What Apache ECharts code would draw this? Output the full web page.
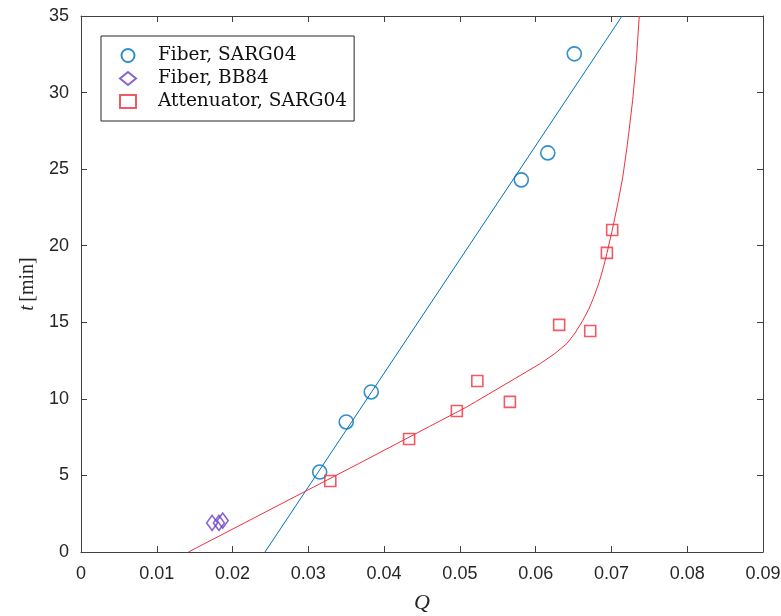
<!DOCTYPE html>
<html>
<head>
<meta charset="utf-8">
<script src="https://cdn.jsdelivr.net/npm/echarts@6/dist/echarts.min.js"></script>
<style>
  html, body { margin: 0; padding: 0; background: #fff; }
  #chart { width: 781px; height: 616px; }
</style>
</head>
<body>
<div id="chart"></div>
<script>
const fiberSargQ = [0.0315, 0.0350, 0.0383, 0.0581, 0.0616, 0.0651]
const fiberSargT = [5.22, 8.49, 10.45, 24.3, 26.06, 32.53]

const fiberBbQ = [0.0173, 0.0182, 0.0187]
const fiberBbT = [1.9, 1.9, 2.05]

const attenQ = [0.0329, 0.0433, 0.0496, 0.0523, 0.0566, 0.0631, 0.0672, 0.0694, 0.0701]
const attenT = [4.64, 7.38, 9.21, 11.17, 9.8, 14.83, 14.43, 19.53, 21.03]

// fitted curves
const fitBlueQ = [0.02428, 0.0714]
const fitBlueT = [0, 35]

const fitRedQ = [0.01418, 0.0368, 0.0460, 0.0509, 0.0553, 0.0606, 0.0625, 0.0641, 0.0652,
  0.0662, 0.0670, 0.0676, 0.0683, 0.0689, 0.0694, 0.0701, 0.0709, 0.0715, 0.0721,
  0.0728, 0.0733, 0.07367]
const fitRedT = [0, 5.81, 8.2, 9.47, 10.75, 12.3, 12.95, 13.6, 14.3,
  15.1, 15.85, 16.55, 17.5, 18.5, 19.5, 21.0, 22.9, 24.5, 26.6,
  29.5, 32.2, 35]

const BLUE = '#0072BD'
const PURPLE = '#6A3CC4'
const RED = '#F0303E'
const AXIS = '#404040'

const zip = (a, b) => a.map((v, i) => [v, b[i]])

const chart = echarts.init(document.getElementById('chart'))

const tickFont = { fontFamily: 'Liberation Sans, Arial, sans-serif', fontSize: 18, color: '#262626' }

const baseAxis = {
  axisLine: { show: true, onZero: false, lineStyle: { color: AXIS, width: 1 } },
  axisTick: { show: true, inside: true, length: 6, lineStyle: { color: AXIS } },
  splitLine: { show: false },
}

const option = {
  animation: false,
  backgroundColor: '#fff',
  grid: { left: 81, right: 18, top: 16, bottom: 64, containLabel: false, outerBoundsMode: 'none' },
  legend: {
    orient: 'vertical',
    left: 101,
    top: 36,
    padding: [10, 7, 10, 18],
    itemGap: 4,
    itemWidth: 16,
    itemHeight: 13,
    borderColor: '#262626',
    borderWidth: 1,
    backgroundColor: '#fff',
    data: ['Fiber, SARG04', 'Fiber, BB84', 'Attenuator, SARG04'],
    textStyle: { fontFamily: 'DejaVu Serif, serif', fontSize: 18.5, color: '#111', padding: [0, 0, 0, 17] },
  },
  xAxis: [
    {
      ...baseAxis,
      type: 'value', min: 0, max: 0.09, interval: 0.01, position: 'bottom',
      name: 'Q', nameLocation: 'middle', nameGap: 40,
      nameTextStyle: { fontFamily: 'Liberation Serif, serif', fontStyle: 'italic', fontSize: 22, color: '#262626' },
      axisLabel: { ...tickFont, margin: 13, formatter: v => (v === 0 ? '0' : +v.toFixed(2) + '') },
    },
    {
      ...baseAxis,
      type: 'value', min: 0, max: 0.09, interval: 0.01, position: 'top',
      axisLabel: { show: false },
    },
  ],
  yAxis: [
    {
      ...baseAxis,
      type: 'value', min: 0, max: 35, interval: 5, position: 'left',
      name: '{i|t} {n|[min]}', nameLocation: 'middle', nameGap: 40, nameRotate: 90,
      nameTextStyle: {
        rich: {
          i: { fontFamily: 'Liberation Serif, serif', fontStyle: 'italic', fontSize: 20, color: '#262626' },
          n: { fontFamily: 'Liberation Serif, serif', fontSize: 20, color: '#262626' },
        },
      },
      axisLabel: { ...tickFont, margin: 12 },
    },
    {
      ...baseAxis,
      type: 'value', min: 0, max: 35, interval: 5, position: 'right',
      axisLabel: { show: false },
    },
  ],
  series: [
    {
      name: 'fit blue', type: 'line', data: zip(fitBlueQ, fitBlueT),
      symbol: 'none', lineStyle: { color: BLUE, width: 1 }, silent: true, z: 1,
    },
    {
      name: 'fit red', type: 'line', data: zip(fitRedQ, fitRedT),
      symbol: 'none', lineStyle: { color: RED, width: 1 }, silent: true, z: 1,
    },
    {
      name: 'Fiber, SARG04', type: 'scatter', data: zip(fiberSargQ, fiberSargT),
      symbol: 'circle', symbolSize: 14,
      itemStyle: { color: 'rgba(255,255,255,0)', borderColor: BLUE, borderWidth: 1.6 }, z: 3,
    },
    {
      name: 'Fiber, BB84', type: 'scatter', data: zip(fiberBbQ, fiberBbT),
      symbol: 'diamond', symbolSize: [11, 15],
      itemStyle: { color: 'rgba(255,255,255,0)', borderColor: PURPLE, borderWidth: 1.6 }, z: 3,
    },
    {
      name: 'Attenuator, SARG04', type: 'scatter', data: zip(attenQ, attenT),
      symbol: 'rect', symbolSize: 11,
      itemStyle: { color: 'rgba(255,255,255,0)', borderColor: RED, borderWidth: 1.6 }, z: 3,
    },
  ],
}

chart.setOption(option)
</script>
</body>
</html>
